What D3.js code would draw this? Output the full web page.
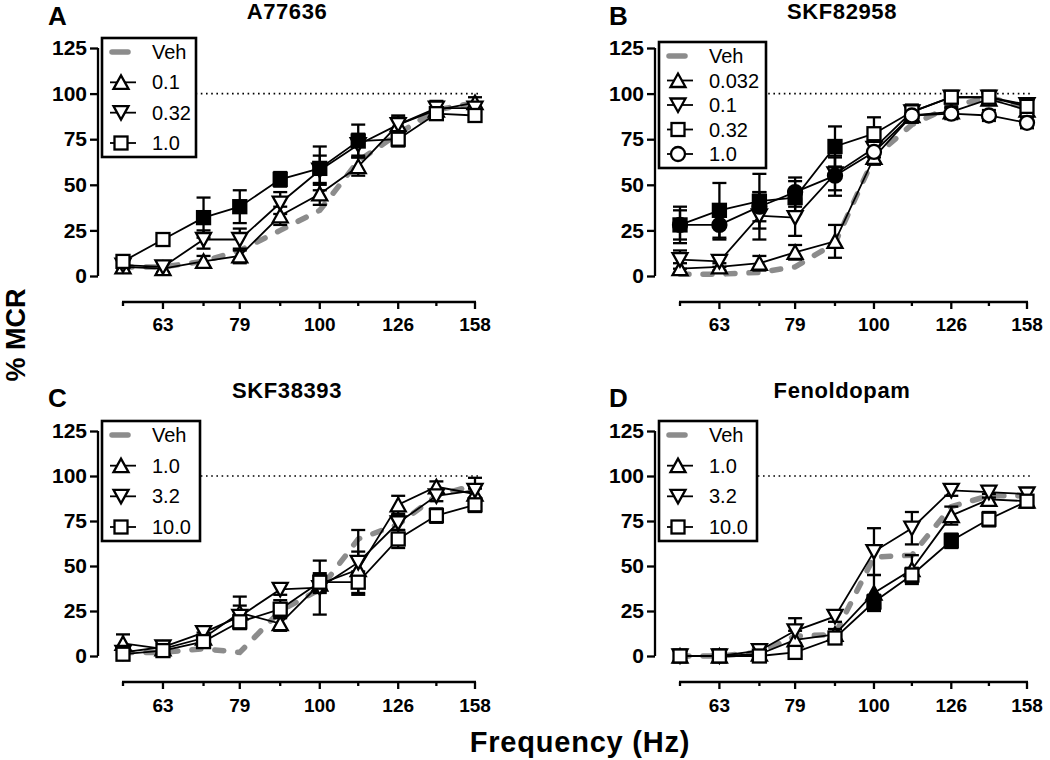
<!DOCTYPE html>
<html>
<head>
<meta charset="UTF-8" />
<script src="https://d3js.org/d3.v7.min.js"></script>
<style>
  body { margin: 0; background: #fff; }
  text { font-family: "Liberation Sans", Arial, sans-serif; }
</style>
</head>
<body>
<div id="chart"></div>
<script>
// frequencies (Hz) and axis ticks
const freqs = [56, 63, 71, 79, 89, 100, 112, 126, 141, 158];
const labelFreqs = [63, 79, 100, 126, 158];
const yTicks = [0, 25, 50, 75, 100, 125];

// A: A77636
const vehA = [5, 5, 8, 14, 25, 36, 63, 78, 91, 95];
const a01 = [5, 4, 8, 11, 33, 45, 60, 83, 91, 95];
const a01Err = [3, 3, 3, 4, 5, 6, 5, 4, 4, 3];
const a032 = [6, 5, 20, 20, 40, 58, 72, 83, 92, 92];
const a032Err = [3, 3, 5, 6, 6, 8, 6, 5, 4, 3];
const a10 = [8, 20, 32, 38, 53, 59, 74, 75, 89, 88];
const a10Err = [3, 2, 11, 9, 4, 12, 9, 4, 3, 3];
const a10Filled = [0, 0, 1, 1, 1, 1, 1, 0, 0, 0];

// B: SKF82958
const vehB = [1, 1, 2, 5, 18, 65, 83, 93, 98, 92];
const b0032 = [4, 5, 7, 13, 19, 65, 88, 90, 97, 91];
const b0032Err = [3, 2, 4, 4, 9, 4, 3, 3, 3, 3];
const b01 = [9, 8, 33, 32, 56, 70, 90, 98, 98, 94];
const b01Err = [5, 3, 13, 10, 9, 5, 3, 3, 3, 3];
const b032 = [28, 36, 41, 43, 71, 78, 90, 98, 98, 93];
const b032Err = [10, 15, 15, 9, 11, 9, 4, 3, 3, 3];
const b032Filled = [1, 1, 1, 1, 1, 0, 0, 0, 0, 0];
const b10 = [28, 28, 38, 46, 55, 68, 88, 89, 88, 84];
const b10Err = [8, 8, 8, 8, 11, 6, 4, 3, 3, 3];
const b10Filled = [1, 1, 1, 1, 1, 0, 0, 0, 0, 0];

// C: SKF38393
const vehC = [2, 2, 4, 2, 25, 37, 65, 73, 89, 95];
const c10 = [7, 4, 10, 24, 18, 40, 48, 84, 94, 90];
const c10Err = [5, 2, 3, 9, 4, 5, 10, 5, 3, 3];
const c32 = [2, 5, 13, 22, 37, 38, 52, 74, 89, 92];
const c32Err = [2, 2, 3, 6, 3, 15, 18, 4, 3, 7];
const c100 = [1, 3, 8, 19, 26, 41, 41, 65, 78, 84];
const c100Err = [2, 2, 3, 4, 5, 5, 6, 5, 4, 4];

// D: Fenoldopam
const vehD = [0, 0, 2, 11, 12, 55, 56, 83, 89, 89];
const d10 = [0, 0, 1, 9, 12, 35, 48, 78, 87, 86];
const d10Err = [1, 1, 2, 5, 3, 10, 8, 5, 3, 3];
const d10Filled = [0, 0, 0, 0, 0, 1, 0, 0, 0, 0];
const d32 = [0, 0, 3, 14, 22, 58, 71, 92, 91, 90];
const d32Err = [1, 1, 2, 7, 3, 13, 9, 3, 3, 3];
const d100 = [0, 0, 0, 2, 10, 30, 45, 64, 76, 86];
const d100Err = [1, 1, 1, 2, 3, 4, 4, 4, 4, 3];
const d100Filled = [0, 0, 0, 0, 0, 1, 0, 1, 0, 0];

const panels = [
  { letter: "A", title: "A77636", veh: vehA,
    series: [
      { label: "0.1", shape: "up", v: a01, e: a01Err },
      { label: "0.32", shape: "down", v: a032, e: a032Err },
      { label: "1.0", shape: "square", v: a10, e: a10Err, f: a10Filled }
    ],
    ax: 98, x0: 123, x1: 475, yBot: 276, yTop: 48, xAxisY: 302, tickBase: 331,
    letterX: 48, letterY: 25, titleX: 287, titleY: 19, leg: [102, 38, 94, 119] },
  { letter: "B", title: "SKF82958", veh: vehB,
    series: [
      { label: "0.032", shape: "up", v: b0032, e: b0032Err },
      { label: "0.1", shape: "down", v: b01, e: b01Err },
      { label: "0.32", shape: "square", v: b032, e: b032Err, f: b032Filled },
      { label: "1.0", shape: "circle", v: b10, e: b10Err, f: b10Filled }
    ],
    ax: 655, x0: 680, x1: 1027, yBot: 276, yTop: 48, xAxisY: 302, tickBase: 331,
    letterX: 609, letterY: 25, titleX: 842, titleY: 19, leg: [659, 42, 107, 126] },
  { letter: "C", title: "SKF38393", veh: vehC,
    series: [
      { label: "1.0", shape: "up", v: c10, e: c10Err },
      { label: "3.2", shape: "down", v: c32, e: c32Err },
      { label: "10.0", shape: "square", v: c100, e: c100Err }
    ],
    ax: 98, x0: 123, x1: 475, yBot: 656, yTop: 431, xAxisY: 682, tickBase: 712,
    letterX: 48, letterY: 407, titleX: 287, titleY: 398, leg: [102, 421, 98, 120] },
  { letter: "D", title: "Fenoldopam", veh: vehD,
    series: [
      { label: "1.0", shape: "up", v: d10, e: d10Err, f: d10Filled },
      { label: "3.2", shape: "down", v: d32, e: d32Err },
      { label: "10.0", shape: "square", v: d100, e: d100Err, f: d100Filled }
    ],
    ax: 655, x0: 680, x1: 1027, yBot: 656, yTop: 431, xAxisY: 682, tickBase: 712,
    letterX: 609, letterY: 407, titleX: 842, titleY: 398, leg: [659, 421, 98, 120] }
];

const svg = d3.select("#chart").append("svg")
  .attr("width", 1050).attr("height", 760);

const GRAY = "#8c8c8c";

function marker(g, shape, x, y, filled) {
  const fill = filled ? "#000" : "#fff";
  let m;
  if (shape === "square") {
    m = g.append("rect").attr("x", x - 6.5).attr("y", y - 6.5).attr("width", 13).attr("height", 13);
  } else if (shape === "circle") {
    m = g.append("circle").attr("cx", x).attr("cy", y).attr("r", 7);
  } else if (shape === "up") {
    m = g.append("path").attr("d", `M${x - 7.5},${y + 6.5}L${x + 7.5},${y + 6.5}L${x},${y - 7}Z`);
  } else {
    m = g.append("path").attr("d", `M${x - 7.5},${y - 6.5}L${x + 7.5},${y - 6.5}L${x},${y + 7}Z`);
  }
  m.attr("fill", fill).attr("stroke", "#000").attr("stroke-width", 2.3);
}

panels.forEach(p => {
  const g = svg.append("g");
  const x = d3.scaleLog().domain([freqs[0], freqs[freqs.length - 1]]).range([p.x0, p.x1]);
  const y = d3.scaleLinear().domain([0, 125]).range([p.yBot, p.yTop]);

  // panel letter and title
  g.append("text").attr("x", p.letterX).attr("y", p.letterY)
    .attr("font-size", 26).attr("font-weight", "bold").text(p.letter);
  g.append("text").attr("x", p.titleX).attr("y", p.titleY).attr("text-anchor", "middle")
    .attr("font-size", 22).attr("font-weight", "bold").attr("letter-spacing", 0.6).text(p.title);

  // y axis
  const yAxis = g.append("g").attr("transform", `translate(${p.ax},0)`)
    .call(d3.axisLeft(y).tickValues(yTicks).tickSize(8).tickPadding(3).tickSizeOuter(0));
  yAxis.select(".domain").attr("stroke-width", 2.3).attr("d", `M0,${y(0)}V${y(125)}`);
  yAxis.selectAll(".tick line").attr("stroke-width", 2.3);
  yAxis.selectAll(".tick text").attr("font-size", 21).attr("font-weight", "bold")
    .attr("font-family", "Liberation Sans, Arial, sans-serif").attr("fill", "#000");

  // x axis (offset below)
  const xg = g.append("g").attr("transform", `translate(0,${p.xAxisY})`);
  xg.append("line").attr("x1", p.x0 - 1).attr("x2", p.x1 + 1)
    .attr("stroke", "#000").attr("stroke-width", 2.3);
  xg.selectAll(".xt").data(freqs).join("line")
    .attr("x1", d => x(d)).attr("x2", d => x(d))
    .attr("y1", 0).attr("y2", d => labelFreqs.includes(d) ? 7 : 4)
    .attr("stroke", "#000").attr("stroke-width", 2.3);
  g.selectAll(".xl").data(labelFreqs).join("text")
    .attr("x", d => x(d)).attr("y", p.tickBase).attr("text-anchor", "middle")
    .attr("font-size", 19).attr("font-weight", "bold").text(d => d);

  // 100% reference line
  g.append("line").attr("x1", p.ax + 4).attr("x2", p.x1 + 3)
    .attr("y1", y(100)).attr("y2", y(100))
    .attr("stroke", "#000").attr("stroke-width", 1.6).attr("stroke-dasharray", "1.6,3.6");

  // vehicle
  const line = d3.line().x((d, i) => x(freqs[i])).y(d => y(d));
  g.append("path").datum(p.veh).attr("d", line)
    .attr("fill", "none").attr("stroke", GRAY).attr("stroke-width", 5.5)
    .attr("stroke-linecap", "round").attr("stroke-dasharray", "9,14");

  // drug series
  p.series.forEach(s => {
    const sg = g.append("g");
    s.v.forEach((v, i) => {
      const cx = x(freqs[i]);
      const e = s.e[i];
      sg.append("line").attr("x1", cx).attr("x2", cx)
        .attr("y1", y(Math.max(0, v - e))).attr("y2", y(v + e))
        .attr("stroke", "#000").attr("stroke-width", 2.3);
      [v + e, Math.max(0, v - e)].forEach(c => {
        sg.append("line").attr("x1", cx - 7).attr("x2", cx + 7)
          .attr("y1", y(c)).attr("y2", y(c))
          .attr("stroke", "#000").attr("stroke-width", 2.3);
      });
    });
    sg.append("path").datum(s.v).attr("d", line)
      .attr("fill", "none").attr("stroke", "#000").attr("stroke-width", 1.8);
  });
  p.series.forEach(s => {
    s.v.forEach((v, i) => marker(g, s.shape, x(freqs[i]), y(v), s.f && s.f[i]));
  });

  // legend
  const [lx, ly, lw, lh] = p.leg;
  const lg = g.append("g");
  lg.append("rect").attr("x", lx).attr("y", ly).attr("width", lw).attr("height", lh)
    .attr("fill", "#fff").attr("stroke", "#000").attr("stroke-width", 2.6);
  const n = p.series.length + 1;
  const step = (lh - 28) / (n - 1);
  const mx = lx + 19, tx = lx + 50;
  lg.append("line").attr("x1", mx - 9).attr("x2", mx + 7)
    .attr("y1", ly + 14).attr("y2", ly + 14)
    .attr("stroke", GRAY).attr("stroke-width", 5.5).attr("stroke-linecap", "round");
  lg.append("text").attr("x", tx).attr("y", ly + 14).attr("dy", "0.35em")
    .attr("font-size", 20).text("Veh");
  p.series.forEach((s, k) => {
    const ry = ly + 14 + step * (k + 1);
    lg.append("line").attr("x1", mx - 11).attr("x2", mx + 15).attr("y1", ry).attr("y2", ry)
      .attr("stroke", "#000").attr("stroke-width", 1.8);
    marker(lg, s.shape, mx, ry, false);
    lg.append("text").attr("x", tx).attr("y", ry).attr("dy", "0.35em")
      .attr("font-size", 20).text(s.label);
  });
});

// shared axis titles
svg.append("text").attr("transform", "translate(25,335) rotate(-90)")
  .attr("text-anchor", "middle").attr("font-size", 27).attr("font-weight", "bold").text("% MCR");
svg.append("text").attr("x", 580).attr("y", 752).attr("text-anchor", "middle")
  .attr("font-size", 29).attr("font-weight", "bold").attr("letter-spacing", 0.8).text("Frequency (Hz)");
</script>
</body>
</html>
